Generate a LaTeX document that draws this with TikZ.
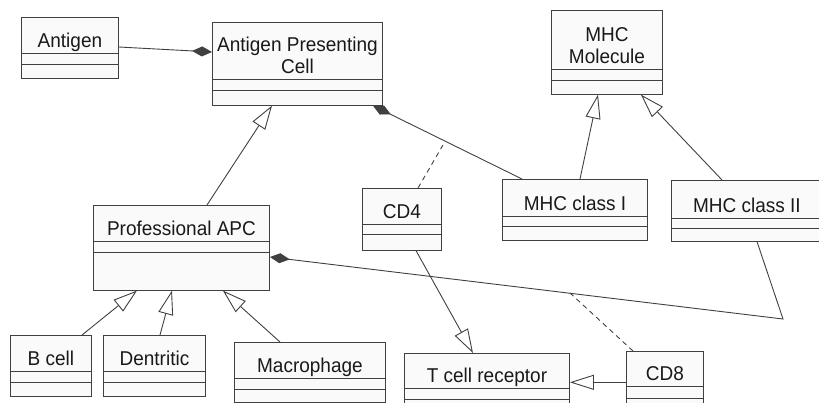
\documentclass[tikz,border=0pt]{standalone}
\usepackage{fontspec}
\setmainfont{Liberation Sans}[FakeStretch=0.95]
\usetikzlibrary{shapes.multipart}
\usetikzlibrary{arrows.meta}

\tikzset{
  umlclass/.style={rectangle split, rectangle split parts=3, draw=black!75,
    line width=0.9pt, fill=black!2, inner sep=0pt, anchor=north west,
    text=black!90, font=\fontsize{20}{22}\selectfont},
  link/.style={draw=black!75, line width=0.9pt},
  inherit/.style={link, -{Triangle[length=24pt, width=15pt, fill=white]}},
  whole/.style={link, {Diamond[length=20pt, width=10pt]}-},
  depend/.style={link, dash pattern=on 5pt off 4pt}
}
\newcommand{\classtext}[5]{\parbox[c][#2pt][b]{#1pt}{\centering #5\rule[-5pt]{0pt}{5pt}}\nodepart{two}\rule{0pt}{#3pt}\nodepart{three}\rule{0pt}{#4pt}}

\begin{document}
\begin{tikzpicture}[x=1pt, y=-1pt]
    \clip (0,0) rectangle (819,402);
    \node[umlclass] (antigen) at (21,17) {\classtext{97}{30}{10}{13}{Antigen}};
    \node[umlclass] (apc) at (212,22) {\classtext{170}{51}{10}{14}{Antigen Presenting\\Cell}};
    \node[umlclass] (mhc) at (551,10) {\classtext{111}{53}{10}{13}{MHC\\Molecule}};
    \node[umlclass] (mhcI) at (502,179) {\classtext{145}{31}{9}{13}{MHC class I}};
    \node[umlclass] (mhcII) at (671,180) {\classtext{151}{32}{9}{12}{MHC class II}};
    \node[umlclass] (cdfour) at (362,188) {\classtext{79}{30}{9}{15}{CD4}};
    \node[umlclass] (papc) at (93,205) {\classtext{176}{30}{10}{37}{Professional APC}};
    \node[umlclass] (bcell) at (10,335) {\classtext{81}{30}{10}{13}{B cell}};
    \node[umlclass] (dentritic) at (103,335) {\classtext{102}{30}{10}{13}{Dentritic}};
    \node[umlclass] (macrophage) at (234,342) {\classtext{151}{30}{10}{12}{Macrophage}};
    \node[umlclass] (tcr) at (404,353) {\classtext{165}{29}{10}{14}{T cell receptor}};
    \node[umlclass] (cdeight) at (626,351) {\classtext{77}{29}{11}{14}{CD8}};
    \coordinate (bend) at (783,319);
    \coordinate (cdfour end) at (443,145);
    \coordinate (cdeight end) at (570,293);

    \draw[link, -{Diamond[length=20pt, width=10pt]}] ([yshift=-30pt]antigen.north east) -- ([yshift=-30pt]apc.north west);
    \draw[whole] ([xshift=-10pt]apc.south east) -- ([xshift=20pt]mhcI.north west);
    \draw[whole] ([yshift=-52pt]papc.north east) -- (bend) -- ([xshift=86pt]mhcII.south west);

    \draw[inherit] ([xshift=78pt]mhcI.north west) -- ([xshift=47pt]mhc.south west);
    \draw[inherit] ([xshift=51pt]mhcII.north west) -- ([xshift=-22pt]mhc.south east);
    \draw[inherit] ([xshift=114pt]papc.north west) -- ([xshift=60pt]apc.south west);
    \draw[inherit] ([xshift=72pt]bcell.north west) -- ([xshift=44pt]papc.south west);
    \draw[inherit] ([xshift=57pt]dentritic.north west) -- ([xshift=79pt]papc.south west);
    \draw[inherit] ([xshift=46pt]macrophage.north west) -- ([xshift=-47pt]papc.south east);
    \draw[inherit] ([xshift=54pt]cdfour.south west) -- ([xshift=69pt]tcr.north west);
    \draw[inherit] (cdeight.west) -- (cdeight.west -| tcr.east);

    \draw[depend] ([xshift=56pt]cdfour.north west) -- (cdfour end);
    \draw[depend] ([xshift=7pt]cdeight.north west) -- (cdeight end);
\end{tikzpicture}
\end{document}
